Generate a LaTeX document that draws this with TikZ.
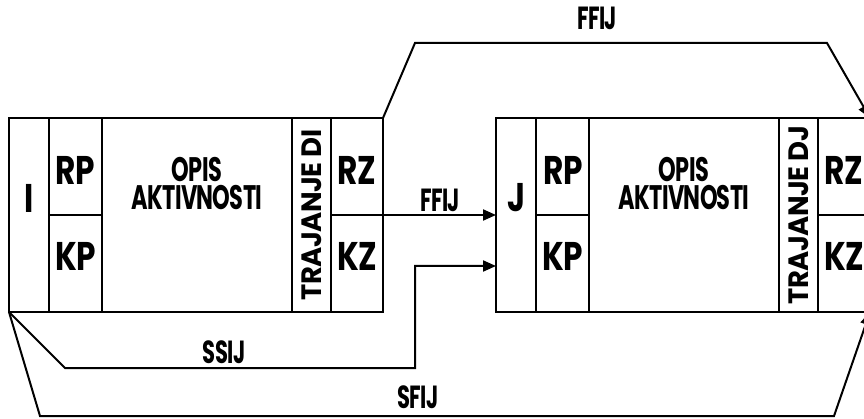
\documentclass[tikz,border=0pt]{standalone}
\usepackage{fontspec}
\newfontfamily\fa[FakeStretch=0.78,LetterSpace=-2]{Poppins}
\newfontfamily\fb[FakeStretch=0.66,LetterSpace=-2]{Poppins}
\newfontfamily\fc[FakeStretch=0.98,LetterSpace=-2]{Poppins}
\usetikzlibrary{arrows.meta}
\begin{document}
\begin{tikzpicture}[x=1pt,y=-1pt,
  box/.style={draw, line width=2.6pt, inner sep=0pt, outer sep=0pt, minimum width=374pt, minimum height=194pt},
  sep/.style={line width=2.6pt},
  conn/.style={line width=2pt, line join=miter},
  arr/.style={conn, -{Triangle[length=13pt,width=11pt]}},
  big/.style={font=\fa\bfseries\fontsize{40}{40}\selectfont, inner sep=0pt},
  mid/.style={font=\fb\bfseries\fontsize{34}{28}\selectfont, inner sep=0pt, align=center},
  rot/.style={font=\fc\bfseries\fontsize{28}{28}\selectfont, inner sep=0pt, rotate=90},
  lab/.style={font=\fb\bfseries\fontsize{32}{32}\selectfont, inner sep=0pt}]
\useasboundingbox (0,0) rectangle (864,419);
\begin{scope}
\clip (0,0) rectangle (864,419);
\node[box] (A) at (196,215) {};
\node[box] (B) at (683,215) {};
\foreach \b in {A,B}{
  \foreach \dx in {40,93,283,322}{
    \draw[sep] ([xshift=\dx pt]\b.north west) -- ([xshift=\dx pt]\b.south west);
  }
  \draw[sep] ([xshift=40pt]\b.west) -- ([xshift=93pt]\b.west);
  \draw[sep] ([xshift=322pt]\b.west) -- (\b.east);
}
% texts left box
\node[big] (ti) at (29,198) {I};
\node[big] (trpa) at (75.5,170) {RP};
\node[big] (tkpa) at (75.5,256) {KP};
\node[mid] (topa) at (197,184) {OPIS\\AKTIVNOSTI};
\node[rot] (ttra) at (311.5,215) {TRAJANJE DI};
\node[big] (trza) at (357,170) {RZ};
\node[big] (tkza) at (357,256) {KZ};
% texts right box
\node[big] (tj) at (516.5,198) {J};
\node[big] (trpb) at (563,170) {RP};
\node[big] (tkpb) at (563,256) {KP};
\node[mid] (topb) at (684,184) {OPIS\\AKTIVNOSTI};
\node[rot] (ttrb) at (798.5,215) {TRAJANJE DJ};
\node[big] (trzb) at (844,170) {RZ};
\node[big] (tkzb) at (844,256) {KZ};
% connectors
\coordinate (f1) at (415,43);
\coordinate (f2) at (827,43);
\draw[arr] (A.north east) -- (f1) -- (f2) -- (B.north east);
\draw[arr] (A.east) -- (B.west);
\coordinate (s1) at (65,368);
\coordinate (s2) at (415,368);
\coordinate (s3) at (415,266);
\draw[arr] (A.south west) -- (s1) -- (s2) -- (s3) -- (B.west |- s3);
\coordinate (g1) at (40,416);
\coordinate (g2) at (834,416);
\draw[arr] (A.south west) -- (g1) -- (g2) -- (B.south east);
% connector labels
\node[lab] (lf1) at (597,18) {FFIJ};
\node[lab] (lf2) at (440,200) {FFIJ};
\node[lab] (ls) at (224,352) {SSIJ};
\node[lab] (lsf) at (418,397) {SFIJ};
\end{scope}
\end{tikzpicture}
\end{document}
